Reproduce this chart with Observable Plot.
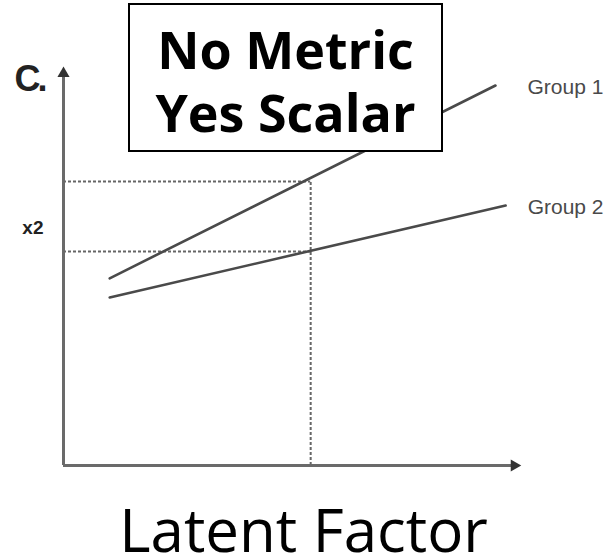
<!DOCTYPE html>
<html>
<head>
<meta charset="utf-8">
<script src="https://cdn.jsdelivr.net/npm/d3@7"></script>
<script src="https://cdn.jsdelivr.net/npm/@observablehq/plot@0.6"></script>
<style>
  html, body { margin: 0; padding: 0; background: #fff; }
  #wrap { position: relative; width: 612px; height: 557px; }
  #box {
    position: absolute; left: 128px; top: 3px; width: 311px; height: 145px;
    border: 2px solid #000; background: #fff;
  }
  #box span {
    position: absolute; left: 0; width: 100%; text-align: center;
    font-family: "Open Sans", sans-serif; font-weight: 700; font-size: 52px;
    line-height: 52px; white-space: nowrap;
  }
  .ylab { letter-spacing: -3px; }
</style>
</head>
<body>
<div id="wrap"><div id="chart"></div><div id="box"><span style="top:18px">No Metric</span><span style="top:81px">Yes Scalar</span></div></div>
<script>
// Latent factor (x) vs. observed indicator (y), two groups
const groups = ["Group 1", "Group 2"];
const groupX = [[1.0, 9.35], [1.0, 9.57]];
const groupY = [[4.68, 9.5], [4.2, 6.5]];
const refX = 5.35;            // latent factor value marked
const refY = [7.1, 5.35];     // observed values for groups at refX
const yLabel = "C.";
const yTickValues = [5.95];
const yTickLabels = ["x2"];
const xLabel = "Latent Factor";

const lineData = groups.flatMap((g, i) => groupX[i].map((x, j) => ({group: g, x, y: groupY[i][j]})));
const ends = groups.map((g, i) => ({group: g, x: groupX[i][1], y: groupY[i][1]}));
const ticks = yTickValues.map((v, i) => ({y: v, label: yTickLabels[i]}));

const gray = "#6a6a6a";
const labelFont = "Liberation Sans, Arial, sans-serif";
const chart = Plot.plot({
  width: 612, height: 557,
  marginTop: 65, marginBottom: 92, marginLeft: 63, marginRight: 87,
  x: {domain: [0, 10], axis: null},
  y: {domain: [0, 10], axis: null},
  style: {background: "#fff"},
  marks: [
    // dotted reference lines
    Plot.ruleY(refY, {x1: 0, x2: refX, stroke: "#666", strokeWidth: 2, strokeDasharray: "3,2"}),
    Plot.ruleX([refX], {y1: 0, y2: refY[0], stroke: "#666", strokeWidth: 2, strokeDasharray: "3,2"}),
    // axes
    Plot.ruleX([0], {y1: 0, y2: 9.85, stroke: gray, strokeWidth: 3}),
    Plot.ruleY([0], {x1: 0, x2: 9.8, stroke: gray, strokeWidth: 3}),
    Plot.dot([{x: 0, y: 9.85}], {x: "x", y: "y", symbol: "triangle", r: 4.5, fill: "#333", stroke: "none", dy: 2}),
    Plot.dot([{x: 9.8, y: 0}], {x: "x", y: "y", symbol: "triangle", r: 4.5, rotate: 90, fill: "#333", stroke: "none", dx: -2}),
    // group lines
    Plot.line(lineData, {x: "x", y: "y", z: "group", stroke: "#4a4a4a", strokeWidth: 2.6}),
    Plot.text(ends.slice(0, 1), {x: "x", y: "y", text: "group", textAnchor: "start", dx: 32, dy: 2,
      fontFamily: labelFont, fontSize: 21, fill: "#4a4a4a", fontWeight: 500}),
    Plot.text(ends.slice(1), {x: "x", y: "y", text: "group", textAnchor: "start", dx: 22, dy: 2,
      fontFamily: labelFont, fontSize: 21, fill: "#4a4a4a", fontWeight: 500}),
    // axis labels
    Plot.text([yLabel], {frameAnchor: "top-left", textAnchor: "start", lineAnchor: "top", dx: -49, dy: 0,
      fontFamily: labelFont, fontWeight: 700, fontSize: 36, fill: "#222", className: "ylab"}),
    Plot.text(ticks, {y: "y", text: "label", frameAnchor: "left", textAnchor: "end", dx: -20,
      fontFamily: labelFont, fontWeight: 700, fontSize: 19, fill: "#222"}),
    Plot.text([xLabel], {frameAnchor: "bottom", lineAnchor: "bottom", dx: 9, dy: 86,
      fontFamily: "Open Sans, sans-serif", fontSize: 60, fill: "#000"})
  ]
});
chart.querySelectorAll(".ylab text, text.ylab, g.ylab text").forEach(t => t.style.letterSpacing = "-3px");
document.getElementById("chart").appendChild(chart);
</script>
</body>
</html>
